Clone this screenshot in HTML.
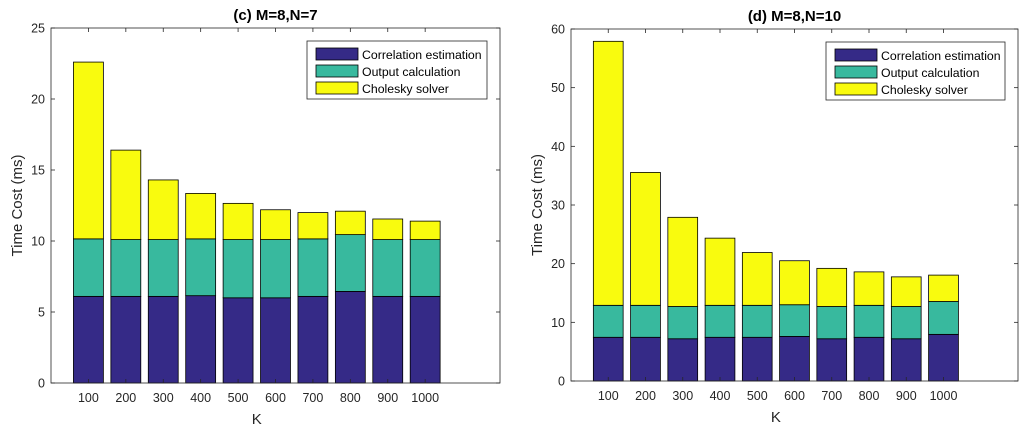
<!DOCTYPE html>
<html><head><meta charset="utf-8">
<style>
html,body{margin:0;padding:0;background:#fff;}
svg{display:block;font-family:"Liberation Sans",Arial,sans-serif;}
</style></head>
<body>
<svg id="chart" width="1024" height="430" viewBox="0 0 1024 430" xmlns="http://www.w3.org/2000/svg"></svg>
<script>
const categories = ["100","200","300","400","500","600","700","800","900","1000"];
// Panel (c) M=8,N=7: cumulative tops
const cCorr = [6.1,6.1,6.1,6.15,6.0,6.0,6.1,6.45,6.1,6.1];
const cOut = [10.15,10.1,10.1,10.15,10.1,10.1,10.15,10.45,10.1,10.1];
const cTotal = [22.6,16.4,14.3,13.35,12.65,12.2,12.0,12.1,11.55,11.4];
const cTicks = [0,5,10,15,20,25];
// Panel (d) M=8,N=10: cumulative tops
const dCorr = [7.45,7.45,7.2,7.45,7.45,7.6,7.2,7.45,7.2,7.95];
const dOut = [12.9,12.9,12.7,12.9,12.9,13.0,12.7,12.9,12.7,13.55];
const dTotal = [57.9,35.55,27.9,24.35,21.9,20.5,19.2,18.6,17.75,18.05];
const dTicks = [0,10,20,30,40,50,60];
const legendLabels = ["Correlation estimation","Output calculation","Cholesky solver"];

const NS="http://www.w3.org/2000/svg";
const svg=document.getElementById('chart');
const COLORS=["#352a87","#38b99e","#f9fb0e"];
function mk(tag,attrs,parent){const e=document.createElementNS(NS,tag);for(const k in attrs)e.setAttribute(k,attrs[k]);(parent||svg).appendChild(e);return e;}

function panel(p){
  const g=mk('g',{});
  
  
  const ymax=p.ticks[p.ticks.length-1];
  const xs=v=>p.x0+(v/12)*(p.x1-p.x0);
  const ys=v=>p.y1-(v/ymax)*(p.y1-p.y0);
  const series=[p.corr,p.out,p.total];
  categories.forEach((c,i)=>{
    let base=0;
    for(let s=0;s<3;s++){
      const top=series[s][i];
      const r=mk('rect',{x:xs(i+1-0.4),y:ys(top),width:xs(0.8)-xs(0),height:ys(base)-ys(top),fill:COLORS[s],stroke:'#000','stroke-width':0.8},g);
      
      
      base=top;
    }
  });
  const box=mk('rect',{x:p.x0,y:p.y0,width:p.x1-p.x0,height:p.y1-p.y0,fill:'none',stroke:'#262626','stroke-width':0.8},g);
  
  
  p.ticks.forEach(t=>{
    const y=ys(t);
    mk('line',{x1:p.x0,x2:p.x0+4,y1:y,y2:y,stroke:'#262626','stroke-width':0.8},g);
    mk('line',{x1:p.x1,x2:p.x1-4,y1:y,y2:y,stroke:'#262626','stroke-width':0.8},g);
    const tx=mk('text',{x:p.x0-6,y:y+4.5,'text-anchor':'end','font-size':12.5,fill:'#262626'},g);
    tx.textContent=t;
    
    
  });
  categories.forEach((c,i)=>{
    const x=xs(i+1);
    mk('line',{x1:x,x2:x,y1:p.y1,y2:p.y1-4,stroke:'#262626','stroke-width':0.8},g);
    mk('line',{x1:x,x2:x,y1:p.y0,y2:p.y0+4,stroke:'#262626','stroke-width':0.8},g);
    const tx=mk('text',{x:x,y:p.y1+19,'text-anchor':'middle','font-size':12.5,fill:'#262626'},g);
    tx.textContent=c;
    
    
  });
  const xt=mk('text',{x:(xs(5.5)),y:p.y1+41,'text-anchor':'middle','font-size':15,fill:'#262626'},g);
  xt.textContent='K';
  
  
  const yt=mk('text',{x:0,y:0,'text-anchor':'middle','font-size':15,fill:'#262626',transform:`translate(${p.x0-29},${(p.y0+p.y1)/2}) rotate(-90)`},g);
  yt.textContent='Time Cost (ms)';
  
  
  const tt=mk('text',{x:(p.x0+p.x1)/2,y:p.y0-8,'text-anchor':'middle','font-size':15,'font-weight':'bold',fill:'#000'},g);
  tt.textContent=p.title;
  
  
  const lg=mk('g',{},g);
  
  
  mk('rect',{x:p.lx,y:p.ly,width:p.lw,height:58,fill:'#fff',stroke:'#262626','stroke-width':0.8},lg);
  legendLabels.forEach((l,k)=>{
    const yy=p.ly+7+k*17;
    const sw=mk('rect',{x:p.lx+9,y:yy,width:42,height:12,fill:COLORS[k],stroke:'#000','stroke-width':0.8},lg);
    
    
    const tx=mk('text',{x:p.lx+55,y:yy+11,'font-size':12.3,fill:'#000'},lg);
    tx.textContent=l;
    
    
  });
}
panel({id:'panel-c',title:'(c) M=8,N=7',x0:51,x1:500,y0:28,y1:383,ticks:cTicks,corr:cCorr,out:cOut,total:cTotal,lx:307,ly:41,lw:180});
panel({id:'panel-d',title:'(d) M=8,N=10',x0:571,x1:1018,y0:29,y1:381,ticks:dTicks,corr:dCorr,out:dOut,total:dTotal,lx:826,ly:42,lw:179});
</script>
</body></html>
